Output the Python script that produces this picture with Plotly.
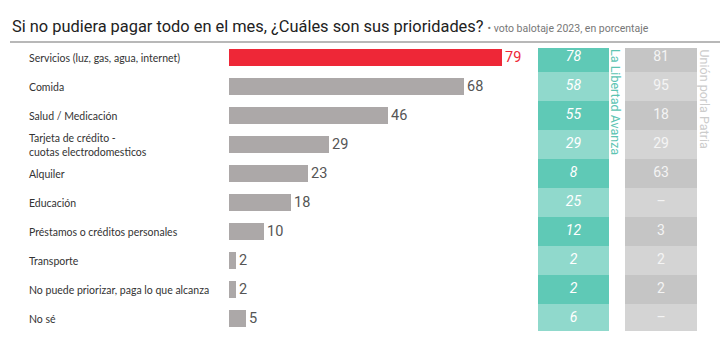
import plotly.graph_objects as go

# ---- data ----
categories = ["Servicios (luz, gas, agua, internet)", "Comida", "Salud / Medicación",
              "Tarjeta de crédito - cuotas electrodomesticos", "Alquiler", "Educación",
              "Préstamos o créditos personales", "Transporte",
              "No puede priorizar, paga lo que alcanza", "No sé"]
label_text = ["Servicios (luz, gas, agua, internet)", "Comida", "Salud / Medicación",
              "Tarjeta de crédito -<br>cuotas electrodomesticos", "Alquiler", "Educación",
              "Préstamos o créditos personales", "Transporte",
              "No puede priorizar, paga lo que alcanza", "No sé"]
total = [79, 68, 46, 29, 23, 18, 10, 2, 2, 5]
lla = ["78", "58", "55", "29", "8", "25", "12", "2", "2", "6"]
uxp = ["81", "95", "18", "29", "63", "–", "3", "2", "2", "–"]

title = "Si no pudiera pagar todo en el mes, ¿Cuáles son sus prioridades?"
subtitle = "• voto balotaje 2023, en porcentaje"
lla_name = "La Libertad Avanza"
uxp_name = "Unión porla Patria"

W, H = 720, 352
def px(x): return x / W
def py(y): return 1 - y / H

RED = "#ee2737"
GREY = "#aca8a8"
TEAL_D, TEAL_L = "#5fc9b6", "#90d9cc"
GCOL_D, GCOL_L = "#c5c5c5", "#d4d4d4"

n = len(categories)
bar_colors = [RED] + [GREY] * (n - 1)
val_colors = [RED] + ["#555555"] * (n - 1)
teal_colors = [TEAL_D if i % 2 == 0 else TEAL_L for i in range(n)]
gcol_colors = [GCOL_D if i % 2 == 0 else GCOL_L for i in range(n)]
col_offset = [-0.33] + [-0.5] * (n - 1)
col_width = [0.83] + [1.0] * (n - 2) + [0.93]

fig = go.Figure()

fig.add_trace(go.Bar(
    x=total, y=categories, orientation="h", xaxis="x", yaxis="y",
    marker=dict(color=bar_colors, line=dict(width=0)), width=0.57,
    text=[str(v) for v in total], textposition="outside", constraintext="none",
    textfont=dict(family="Roboto", size=14.5, color=val_colors),
    cliponaxis=False, hoverinfo="skip", showlegend=False,
))

fig.add_trace(go.Bar(
    x=[1] * n, y=categories, orientation="h", xaxis="x2", yaxis="y",
    marker=dict(color=teal_colors, line=dict(width=0)),
    width=col_width, offset=col_offset, hoverinfo="skip", showlegend=False,
))
fig.add_trace(go.Scatter(
    x=[0.5] * n, y=categories, mode="text", text=lla, xaxis="x2", yaxis="y",
    textfont=dict(family="Roboto", size=14, color="white", style="italic"),
    hoverinfo="skip", showlegend=False,
))
fig.add_trace(go.Bar(
    x=[1] * n, y=categories, orientation="h", xaxis="x3", yaxis="y",
    marker=dict(color=gcol_colors, line=dict(width=0)),
    width=col_width, offset=col_offset, hoverinfo="skip", showlegend=False,
))
fig.add_trace(go.Scatter(
    x=[0.5] * n, y=categories, mode="text", text=uxp, xaxis="x3", yaxis="y",
    textfont=dict(family="Roboto", size=14, color="#f4f4f4"),
    hoverinfo="skip", showlegend=False,
))

annotations = []
for cat, lab in zip(categories, label_text):
    annotations.append(dict(
        x=px(27), xref="paper", y=cat, yref="y", text=lab, showarrow=False,
        xanchor="left", yanchor="middle", align="left",
        font=dict(family="Lato", size=10.5, color="#333333"),
    ))
annotations.append(dict(
    x=px(10), xref="paper", y=py(27), yref="paper",
    text=f"<span style='font-size:16.4px;color:#222'>{title}</span> "
         f"<span style='font-size:10.5px;color:#777'>{subtitle}</span>",
    showarrow=False, xanchor="left", yanchor="middle",
    font=dict(family="Roboto", size=16, color="#222"),
))
annotations.append(dict(
    x=px(616), xref="paper", y=py(47), yref="paper", text=lla_name, textangle=90,
    showarrow=False, xanchor="center", yanchor="top",
    font=dict(family="Roboto", size=12.5, color="#5cc4b2"),
))
annotations.append(dict(
    x=px(704), xref="paper", y=py(47), yref="paper", text=uxp_name, textangle=90,
    showarrow=False, xanchor="center", yanchor="top",
    font=dict(family="Roboto", size=12.5, color="#cccccc"),
))

fig.update_layout(
    width=W, height=H, margin=dict(l=0, r=0, t=0, b=0),
    paper_bgcolor="white", plot_bgcolor="rgba(0,0,0,0)",
    barmode="overlay", bargap=0,
    xaxis=dict(domain=[px(229), px(229 + 3.456 * 100)], range=[0, 100], visible=False, fixedrange=True),
    xaxis2=dict(domain=[px(538), px(609)], range=[0, 1], visible=False, fixedrange=True),
    xaxis3=dict(domain=[px(625), px(697)], range=[0, 1], visible=False, fixedrange=True),
    yaxis=dict(domain=[py(333), py(43)], type="category", categoryorder="array",
               categoryarray=categories, range=[n - 0.5, -0.5], visible=False, fixedrange=True),
    annotations=annotations,
    shapes=[dict(type="line", xref="paper", yref="paper", x0=px(10), x1=1,
                 y0=py(42), y1=py(42), line=dict(color="#a0a0a0", width=1.5))],
)

fig.write_html("out.html")
